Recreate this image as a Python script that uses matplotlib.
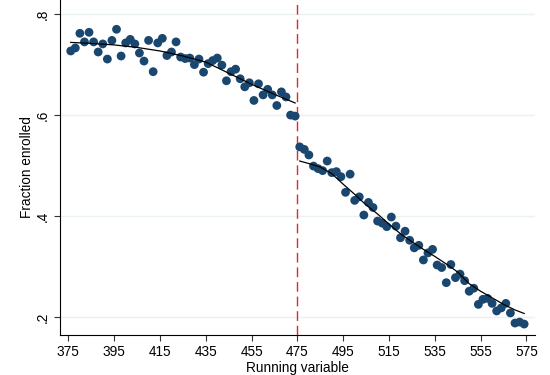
import numpy as np
import matplotlib
matplotlib.use("Agg")
import matplotlib.pyplot as plt

plt.rcParams['font.family'] = ['Liberation Sans', 'DejaVu Sans']

# binned means, left of the cutoff
x_left = list(range(376, 475, 2))
y_left = [0.727, 0.733, 0.762, 0.745, 0.764, 0.745, 0.725, 0.741, 0.711, 0.748,
          0.770, 0.717, 0.743, 0.750, 0.741, 0.723, 0.707, 0.748, 0.686, 0.743,
          0.752, 0.718, 0.725, 0.745, 0.715, 0.712, 0.713, 0.700, 0.711, 0.685,
          0.702, 0.708, 0.713, 0.699, 0.668, 0.686, 0.691, 0.672, 0.656, 0.664,
          0.629, 0.662, 0.640, 0.651, 0.640, 0.619, 0.646, 0.636, 0.600, 0.598]

# binned means, right of the cutoff
x_right = list(range(476, 575, 2))
y_right = [0.537, 0.532, 0.521, 0.499, 0.494, 0.490, 0.509, 0.486, 0.488, 0.478,
           0.447, 0.483, 0.431, 0.438, 0.402, 0.427, 0.417, 0.390, 0.386, 0.379,
           0.398, 0.380, 0.357, 0.370, 0.352, 0.337, 0.342, 0.313, 0.327, 0.334,
           0.303, 0.298, 0.268, 0.304, 0.278, 0.285, 0.272, 0.251, 0.257, 0.225,
           0.235, 0.237, 0.227, 0.212, 0.218, 0.227, 0.208, 0.188, 0.190, 0.186]

# fitted lines
fit_x_left = [376, 385, 395, 405, 415, 425, 435, 445, 455, 465, 474]
fit_y_left = [0.744, 0.742, 0.739, 0.734, 0.727, 0.717, 0.705, 0.683, 0.661, 0.641, 0.624]
fit_x_right = [476, 480, 485, 490, 495, 500, 505, 510, 515, 520, 525,
               530, 535, 540, 545, 550, 555, 560, 565, 570, 574]
fit_y_right = [0.509, 0.504, 0.497, 0.484, 0.463, 0.443, 0.422, 0.404, 0.384, 0.365, 0.349,
               0.334, 0.320, 0.305, 0.289, 0.266, 0.251, 0.238, 0.225, 0.214, 0.207]

cutoff = 475
xticks = list(range(375, 576, 20))
yticks = [0.2, 0.4, 0.6, 0.8]
ytick_labels = ['.2', '.4', '.6', '.8']

fig = plt.figure(figsize=(5.5, 3.75), dpi=100)
ax = fig.add_axes([0.109, 0.107, 0.864, 0.893])

navy = '#1a476f'
for yt in yticks:
    ax.axhline(yt, color='#eaf2f3', lw=1.0, zorder=0)

ax.scatter(x_left, y_left, s=40, color=navy, edgecolors='none', zorder=2)
ax.scatter(x_right, y_right, s=40, color=navy, edgecolors='none', zorder=2)
ax.plot(fit_x_left, fit_y_left, color='black', lw=0.9, zorder=3)
ax.plot(fit_x_right, fit_y_right, color='black', lw=0.9, zorder=3)
ax.axvline(cutoff, color='#e8262a', lw=1.0, dashes=(7, 3.5), zorder=1)

ax.set_xlim(371.3, 578.8)
ax.set_ylim(0.1646, 0.828)
ax.set_xticks(xticks)
ax.set_yticks(yticks)
ax.set_yticklabels(ytick_labels, rotation=90, va='center')
ax.tick_params(labelsize=9.8, length=4, width=0.8, color='#333333')
ax.spines['top'].set_visible(False)
ax.spines['right'].set_visible(False)
ax.set_xlabel('Running variable', fontsize=9.8, labelpad=1)
ax.set_ylabel('Fraction enrolled', fontsize=9.8, labelpad=1)

fig.savefig('out.png', dpi=100)
